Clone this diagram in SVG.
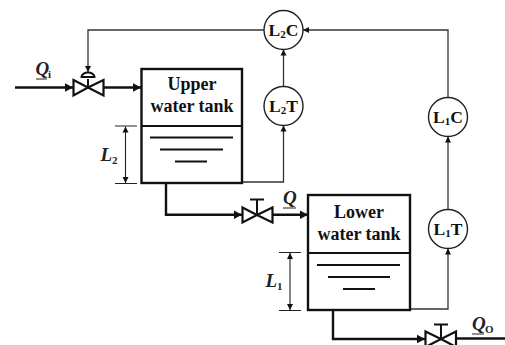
<svg xmlns="http://www.w3.org/2000/svg" width="505" height="345" viewBox="0 0 505 345">
<style>
.t{font-family:"Liberation Serif",serif;font-weight:bold;font-size:18px;fill:#111;text-anchor:middle}
.c{font-family:"Liberation Serif",serif;font-weight:bold;font-size:17.500px;fill:#111;text-anchor:middle}
.l{font-family:"Liberation Serif",serif;font-weight:bold;font-style:italic;font-size:19px;fill:#222}
.s{font-size:11px;font-style:normal}
.tank{fill:#fff;stroke:#111;stroke-width:2.4}
.w{fill:none;stroke:#111;stroke-width:2.2}
.pipe{fill:none;stroke:#111;stroke-width:2.4}
.sig{fill:none;stroke:#333;stroke-width:1.3}
.dim{fill:none;stroke:#222;stroke-width:1.1}
.ins{fill:#fff;stroke:#222;stroke-width:1.4}
.v{fill:#fff;stroke:#111;stroke-width:2.2}
.u{fill:none;stroke:#222;stroke-width:1.2}
</style>
<defs>
<marker id="a" markerUnits="userSpaceOnUse" markerWidth="9" markerHeight="10" refX="8" refY="5" orient="auto"><path d="M0 0.8L8 5L0 9.2z" fill="#111"/></marker>
<marker id="b" markerUnits="userSpaceOnUse" markerWidth="7" markerHeight="7" refX="6" refY="3.5" orient="auto"><path d="M0 0.5L6 3.5L0 6.5z" fill="#111"/></marker>
<marker id="d" markerUnits="userSpaceOnUse" markerWidth="7" markerHeight="7" refX="6" refY="3.5" orient="auto-start-reverse"><path d="M0 0.5L6 3.5L0 6.5z" fill="#111"/></marker>
</defs>
<g id="connectors">
<path class="pipe" d="M15 87.500H73" marker-end="url(#a)"/>
<path class="pipe" d="M104 87.500H141" marker-end="url(#a)"/>
<path class="pipe" d="M166 183V214.700H242" marker-end="url(#a)"/>
<path class="pipe" d="M273 214.700H308" marker-end="url(#a)"/>
<path class="pipe" d="M333 310V339H425" marker-end="url(#a)"/>
<path class="pipe" d="M456 338.500H505"/>
<path class="sig" d="M264 30H88V72" marker-end="url(#b)"/>
<path class="sig" d="M242 182H283.500V125.500" marker-end="url(#b)"/>
<path class="sig" d="M283.500 87V49.500" marker-end="url(#b)"/>
<path class="sig" d="M448 98V30H303" marker-end="url(#b)"/>
<path class="sig" d="M410 309H448V248.500" marker-end="url(#b)"/>
<path class="sig" d="M448 210V136.500" marker-end="url(#b)"/>
<path class="dim" d="M115 126H137M115 183.500H137M279 252.500H301M279 310.500H301"/>
<path class="dim" d="M125.500 126.500V183" marker-start="url(#d)" marker-end="url(#d)"/>
<path class="dim" d="M290 253V310" marker-start="url(#d)" marker-end="url(#d)"/>
</g>
<g id="upper-tank">
<rect class="tank" x="141.500" y="69" width="100.500" height="114"/>
<path class="w" d="M141.500 126H242"/>
<path class="w" d="M150 137.500H233M160 149.500H223M175 161.500H207"/>
<text class="t" x="192" y="90">Upper</text>
<text class="t" x="192" y="112">water tank</text>
</g>
<g id="lower-tank">
<rect class="tank" x="308" y="195" width="102" height="115"/>
<path class="w" d="M308 253H410"/>
<path class="w" d="M317 265H400M328 277H390M343 289H375"/>
<text class="t" x="359" y="218">Lower</text>
<text class="t" x="359" y="240">water tank</text>
</g>
<g id="valve-inlet">
<path class="v" d="M73.500 80L88 87.500L73.500 95.500zM103.500 80L88 87.500L103.500 95.500z"/>
<path d="M88 87.500V79" fill="none" stroke="#111" stroke-width="2"/>
<path d="M81.500 77a6.500 4.500 0 0 1 13 0z" fill="#fff" stroke="#111" stroke-width="2"/>
</g>
<g id="valve-middle">
<path class="v" d="M242.500 207.500L257 215L242.500 222.500zM272.500 207.500L257 215L272.500 222.500z"/>
<path d="M257 215V199.500M250 199.500H264" fill="none" stroke="#111" stroke-width="2"/>
</g>
<g id="valve-outlet">
<path class="v" d="M425.500 331.500L441 339L425.500 347zM456 331.500L441 339L456 347z"/>
<path d="M441 339V324.500M434 324.500H448" fill="none" stroke="#111" stroke-width="2"/>
</g>
<g id="L2C"><circle class="ins" cx="283.500" cy="30" r="19.500"/><text class="c" x="283.500" y="36">L<tspan class="s" dy="2">2</tspan><tspan dy="-2">C</tspan></text></g>
<g id="L2T"><circle class="ins" cx="283.500" cy="106" r="19.500"/><text class="c" x="283.500" y="112">L<tspan class="s" dy="2">2</tspan><tspan dy="-2">T</tspan></text></g>
<g id="L1C"><circle class="ins" cx="448" cy="117" r="19.500"/><text class="c" x="448" y="123">L<tspan class="s" dy="2">1</tspan><tspan dy="-2">C</tspan></text></g>
<g id="L1T"><circle class="ins" cx="448" cy="229" r="19.500"/><text class="c" x="448" y="235">L<tspan class="s" dy="2">1</tspan><tspan dy="-2">T</tspan></text></g>
<g id="labels">
<text class="l" x="35.500" y="75">Q</text><text class="l" x="48" y="78"><tspan class="s">i</tspan></text>
<path class="u" d="M36 79H47M283 208H296M472 334H484"/>
<text class="l" x="100.500" y="161">L<tspan class="s" dy="3">2</tspan></text>
<text class="l" x="265.500" y="287">L<tspan class="s" dy="3">1</tspan></text>
<text class="l" x="283" y="204">Q</text>
<text class="l" x="472" y="330">Q</text><text class="l" x="485" y="333"><tspan class="s">O</tspan></text>
</g>
</svg>
